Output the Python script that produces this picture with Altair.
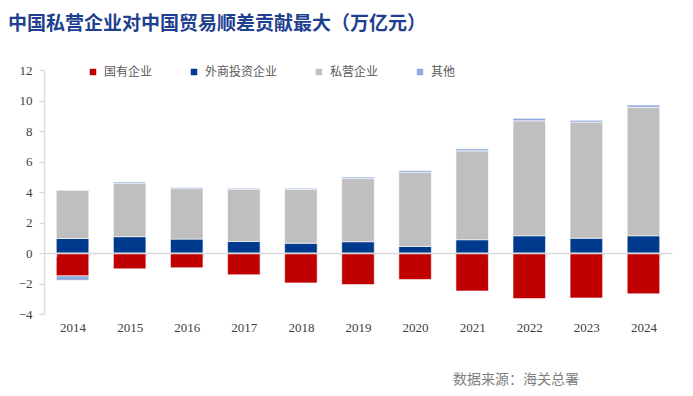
import altair as alt
import pandas as pd

years = ["2014", "2015", "2016", "2017", "2018", "2019", "2020", "2021", "2022", "2023", "2024"]
state = [-1.50, -1.04, -0.97, -1.43, -1.96, -2.07, -1.74, -2.49, -2.99, -2.95, -2.68]
foreign = [0.95, 1.07, 0.91, 0.76, 0.64, 0.74, 0.43, 0.87, 1.13, 0.97, 1.13]
private = [3.16, 3.50, 3.31, 3.42, 3.52, 4.14, 4.87, 5.83, 7.54, 7.62, 8.42]
other = [-0.29, 0.09, 0.07, 0.06, 0.08, 0.10, 0.11, 0.13, 0.16, 0.11, 0.15]

series = ["国有企业", "外商投资企业", "私营企业", "其他"]
colors = ["#C00000", "#003A8C", "#BFBFBF", "#8FAADC"]

rows = []
for i, y in enumerate(years):
    for k, (name, vals) in enumerate(zip(series, [state, foreign, private, other])):
        rows.append({"year": y, "series": name, "value": vals[i], "order": k})
df = pd.DataFrame(rows)

grey_line = "#D9D9D9"

bars = alt.Chart(df).mark_bar(stroke="white", strokeWidth=0.6).encode(
    x=alt.X("year:N", sort=years, title=None,
            scale=alt.Scale(paddingInner=0.43, paddingOuter=0.215),
            axis=alt.Axis(offset=-61, domain=True, domainColor=grey_line, domainWidth=1.6,
                          ticks=True, tickBand="extent", tickColor=grey_line, tickSize=4,
                          tickWidth=1.3, labelPadding=64, labelAngle=0,
                          labelFont="Liberation Serif", labelFontSize=13,
                          labelColor="#404040", grid=False, zindex=1)),
    y=alt.Y("value:Q", stack="zero", title=None,
            scale=alt.Scale(domain=[-4, 12], nice=False),
            axis=alt.Axis(values=[-4, -2, 0, 2, 4, 6, 8, 10, 12], grid=False,
                          domainColor=grey_line, domainWidth=1.4, tickColor=grey_line,
                          tickSize=5, tickWidth=1.3, labelPadding=7,
                          labelFont="Liberation Serif", labelFontSize=13,
                          labelColor="#404040")),
    color=alt.Color("series:N", sort=series,
                    scale=alt.Scale(domain=series, range=colors),
                    legend=alt.Legend(title=None, orient="none", legendX=43, legendY=-4,
                                      direction="horizontal", symbolType="square",
                                      symbolSize=42, symbolStrokeWidth=0,
                                      labelFont="Noto Sans CJK SC", labelFontSize=12,
                                      labelColor="#595959", columnPadding=35,
                                      labelOffset=5)),
    order=alt.Order("order:Q"),
)

src_df = pd.DataFrame({"t": ["数据来源：海关总署"]})
source = alt.Chart(src_df).mark_text(
    align="left", baseline="middle", font="Noto Sans CJK SC", fontSize=14,
    color="#7F7F7F"
).encode(text="t:N", x=alt.value(409), y=alt.value(310))

chart = alt.layer(bars, source).properties(
    width=628, height=244,
    autosize=alt.AutoSizeParams(type="none"),
    padding={"left": 36, "top": 62, "right": 13, "bottom": 74},
    title=alt.TitleParams(
        "中国私营企业对中国贸易顺差贡献最大（万亿元）", anchor="start", frame="group",
        dx=-36, offset=30, font="Noto Sans CJK SC", fontSize=19, fontWeight="bold",
        color="#1F3F8F"),
).configure_view(stroke=None)

chart.save("out.html", embed_options={"renderer": "svg", "actions": False})
